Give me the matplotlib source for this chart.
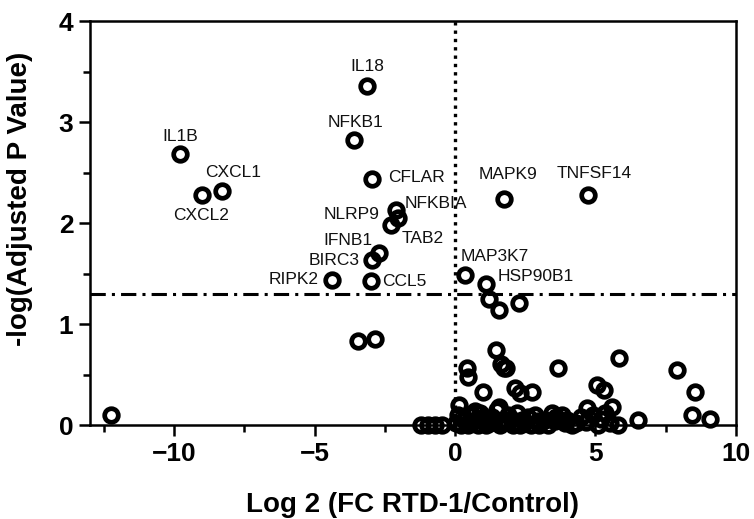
import matplotlib
matplotlib.use('Agg')
import matplotlib.pyplot as plt
from matplotlib.ticker import MultipleLocator

plt.rcParams['font.family'] = ['Liberation Sans', 'DejaVu Sans']

# labelled genes: log2 FC, -log(adj p)
genes = ['IL18', 'NFKB1', 'IL1B', 'CXCL1', 'CXCL2', 'CFLAR', 'NFKBIA', 'NLRP9',
         'TAB2', 'IFNB1', 'BIRC3', 'RIPK2', 'CCL5', 'MAPK9', 'TNFSF14',
         'MAP3K7', 'HSP90B1']
gene_fc = [-3.15, -3.6, -9.8, -8.3, -9.0, -2.96, -2.1, -2.05, -2.3, -2.7, -2.95,
           -4.4, -3.0, 1.75, 4.75, 0.35, 1.1]
gene_p = [3.36, 2.82, 2.68, 2.32, 2.28, 2.44, 2.13, 2.05, 1.98, 1.70, 1.63,
          1.44, 1.43, 2.24, 2.28, 1.49, 1.40]

# other genes (not labelled)
other_fc = [-12.25, -3.46, -2.86, 1.2, 1.57, 2.29,
            0.43, 0.46, 1.0, 1.46, 1.75, 1.65, 1.82, 2.15, 2.3, 2.75, 3.65,
            5.05, 5.3, 5.82, 5.6, 4.68, 7.9, 8.54, 0.15, 1.55,
            -1.2, -0.95, -0.7, -0.45, 0.05, 0.3, 0.45, 0.6, 0.75, 0.9, 1.1,
            1.3, 1.5, 1.7, 1.9, 2.05, 2.2, 2.4, 2.6, 2.85, 3.0, 3.2, 3.45,
            3.6, 3.8, 4.0, 4.3, 4.5, 4.9, 5.1, 5.35, 5.8, 6.5, 8.43, 9.07,
            0.2, 0.55, 0.8, 1.05, 1.25, 1.6, 1.8, 2.0, 2.3, 2.5, 2.7, 2.95,
            3.3, 3.55, 3.9, 4.15, 4.65, 5.2, 5.5, 0.1, 0.7, 1.4, 2.1]
other_p = [0.10, 0.83, 0.85, 1.25, 1.14, 1.21,
           0.56, 0.48, 0.33, 0.74, 0.56, 0.60, 0.56, 0.37, 0.32, 0.33, 0.56,
           0.40, 0.35, 0.66, 0.18, 0.17, 0.54, 0.33, 0.20, 0.18,
           0.0, 0.0, 0.0, 0.0, 0.02, 0.05, 0.0, 0.10, 0.05, 0.12, 0.0,
           0.08, 0.15, 0.03, 0.10, 0.0, 0.12, 0.05, 0.08, 0.10, 0.0, 0.05, 0.12,
           0.08, 0.10, 0.05, 0.02, 0.08, 0.10, 0.0, 0.12, 0.0, 0.05, 0.10, 0.06,
           0.0, 0.02, 0.0, 0.06, 0.02, 0.0, 0.04, 0.06, 0.0, 0.03, 0.0, 0.04,
           0.0, 0.04, 0.02, 0.0, 0.03, 0.06, 0.02, 0.10, 0.14, 0.04, 0.02]

# label anchor (x, y, ha)
label_pos = {
    'IL18': (-3.14, 3.55, 'center'), 'NFKB1': (-3.54, 3.0, 'center'),
    'IL1B': (-9.8, 2.86, 'center'), 'CXCL1': (-7.9, 2.5, 'center'),
    'CXCL2': (-9.04, 2.07, 'center'), 'CFLAR': (-2.4, 2.45, 'left'),
    'NFKBIA': (-1.78, 2.19, 'left'), 'NLRP9': (-2.7, 2.08, 'right'),
    'TAB2': (-1.9, 1.85, 'left'), 'IFNB1': (-2.95, 1.83, 'right'),
    'BIRC3': (-3.4, 1.63, 'right'), 'RIPK2': (-4.85, 1.44, 'right'),
    'CCL5': (-2.6, 1.42, 'left'), 'MAPK9': (1.9, 2.48, 'center'),
    'TNFSF14': (4.96, 2.49, 'center'), 'MAP3K7': (0.2, 1.67, 'left'),
    'HSP90B1': (1.5, 1.47, 'left'),
}

fig = plt.figure(figsize=(7.54, 5.19), dpi=100)
ax = fig.add_axes([0.1194, 0.1811, 0.8566, 0.7784])

ax.axhline(1.3, color='black', lw=2.2, ls=(0, (5, 2, 1, 2)), zorder=1)
ax.axvline(0, color='black', lw=2.4, ls=(0, (1, 1.5)), zorder=1)

mk = dict(marker='o', ls='none', ms=9.8, mfc='none', mec='black', mew=3.4,
          clip_on=False, zorder=3)
ax.plot(other_fc, other_p, **mk)
ax.plot(gene_fc, gene_p, **mk)

for g in genes:
    x, y, ha = label_pos[g]
    ax.text(x, y, g, ha=ha, va='center', fontsize=12.5, color='#111111')

ax.set_xlim(-13, 10)
ax.set_ylim(0, 4)
ax.xaxis.set_major_locator(MultipleLocator(5))
ax.xaxis.set_minor_locator(MultipleLocator(2.5))
ax.yaxis.set_major_locator(MultipleLocator(1))
ax.yaxis.set_minor_locator(MultipleLocator(0.5))

for s in ax.spines.values():
    s.set_linewidth(1.8)
ax.tick_params(which='major', length=8, width=1.8, labelsize=19, pad=4)
ax.tick_params(which='minor', length=5, width=1.8)
for lab in ax.get_xticklabels() + ax.get_yticklabels():
    lab.set_fontweight('bold')

ax.set_xlabel('Log 2 (FC RTD-1/Control)', fontsize=20, fontweight='bold')
ax.set_ylabel('-log(Adjusted P Value)', fontsize=20, fontweight='bold')
ax.xaxis.set_label_coords(0.5, -0.165)
ax.yaxis.set_label_coords(-0.088, 0.56)

fig.savefig('out.png', dpi=100)
